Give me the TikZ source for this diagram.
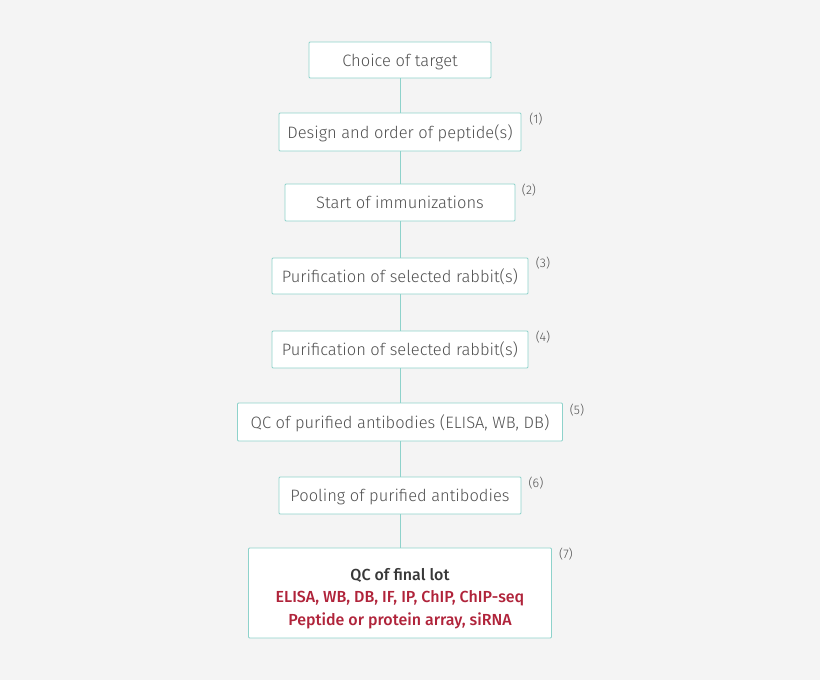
\documentclass[tikz,border=0pt]{standalone}
\usepackage{fontspec}
\setmainfont{Fira Sans}[UprightFont={* Light},BoldFont={* Medium}]
\definecolor{bg}{HTML}{F4F4F4}
\definecolor{teal}{HTML}{8ED2CB}
\definecolor{txt}{HTML}{505050}
\definecolor{redt}{HTML}{B0233A}
\newcommand{\lowertxt}[1]{\raisebox{-6pt}[0pt][0pt]{#1}}
\begin{document}
\begin{tikzpicture}[x=1pt,y=-1pt,
  stepbox/.style={draw=teal,line width=0.9pt,fill=white,rounded corners=1pt,inner sep=0pt,text=txt,font=\fontsize{16.5}{19}\selectfont},
  refnum/.style={text=txt,font=\fontsize{12.5}{14}\selectfont,inner sep=0pt},
  conn/.style={draw=teal,line width=0.9pt}]
\fill[bg] (0,0) rectangle (820,680);
\useasboundingbox (0,0) rectangle (820,680);
\node[stepbox,minimum width=182pt,minimum height=36pt] (s0) at (400,60) {\lowertxt{Choice of target}};
\node[stepbox,minimum width=242pt,minimum height=38pt] (s1) at (400,132) {\lowertxt{Design and order of peptide(s)}};
\node[stepbox,minimum width=230pt,minimum height=37pt] (s2) at (400,202.5) {\lowertxt{Start of immunizations}};
\node[stepbox,minimum width=256pt,minimum height=36pt] (s3) at (400,276) {\lowertxt{Purification of selected rabbit(s)}};
\node[stepbox,minimum width=256pt,minimum height=37pt] (s4) at (400,349.5) {\lowertxt{Purification of selected rabbit(s)}};
\node[stepbox,minimum width=325pt,minimum height=38pt] (s5) at (400,422) {\lowertxt{QC of purified antibodies (ELISA, WB, DB)}};
\node[stepbox,minimum width=303pt,minimum height=90pt] (s7) at (400,593)
  {\raisebox{-10.5pt}[0pt][0pt]{\begin{tabular}{@{}c@{}}
   {\fontsize{16}{19}\selectfont\bfseries\color{txt!70!black}QC of final lot}\\[3.5pt]
   {\fontsize{16}{19}\selectfont\color{redt}\bfseries ELISA, WB, DB, IF, IP, ChIP, ChIP-seq}\\[3.5pt]
   {\fontsize{16}{19}\selectfont\color{redt}\bfseries Peptide or protein array, siRNA}
   \end{tabular}}};
\node[stepbox,minimum width=242pt,minimum height=37pt] (s6) at (400,495.5) {\lowertxt{Pooling of purified antibodies}};
\node[refnum] (r1) at (536,119) {(1)};
\node[refnum] (r2) at (529,190) {(2)};
\node[refnum] (r3) at (543,263) {(3)};
\node[refnum] (r4) at (543,337) {(4)};
\node[refnum] (r5) at (577,410) {(5)};
\node[refnum] (r6) at (536,483) {(6)};
\node[refnum] (r7) at (566,554) {(7)};
\draw[conn] (s0.south) -- (s1.north);
\draw[conn] (s1.south) -- (s2.north);
\draw[conn] (s2.south) -- (s3.north);
\draw[conn] (s3.south) -- (s4.north);
\draw[conn] (s4.south) -- (s5.north);
\draw[conn] (s5.south) -- (s6.north);
\draw[conn] (s6.south) -- (s7.north);
\end{tikzpicture}
\end{document}
